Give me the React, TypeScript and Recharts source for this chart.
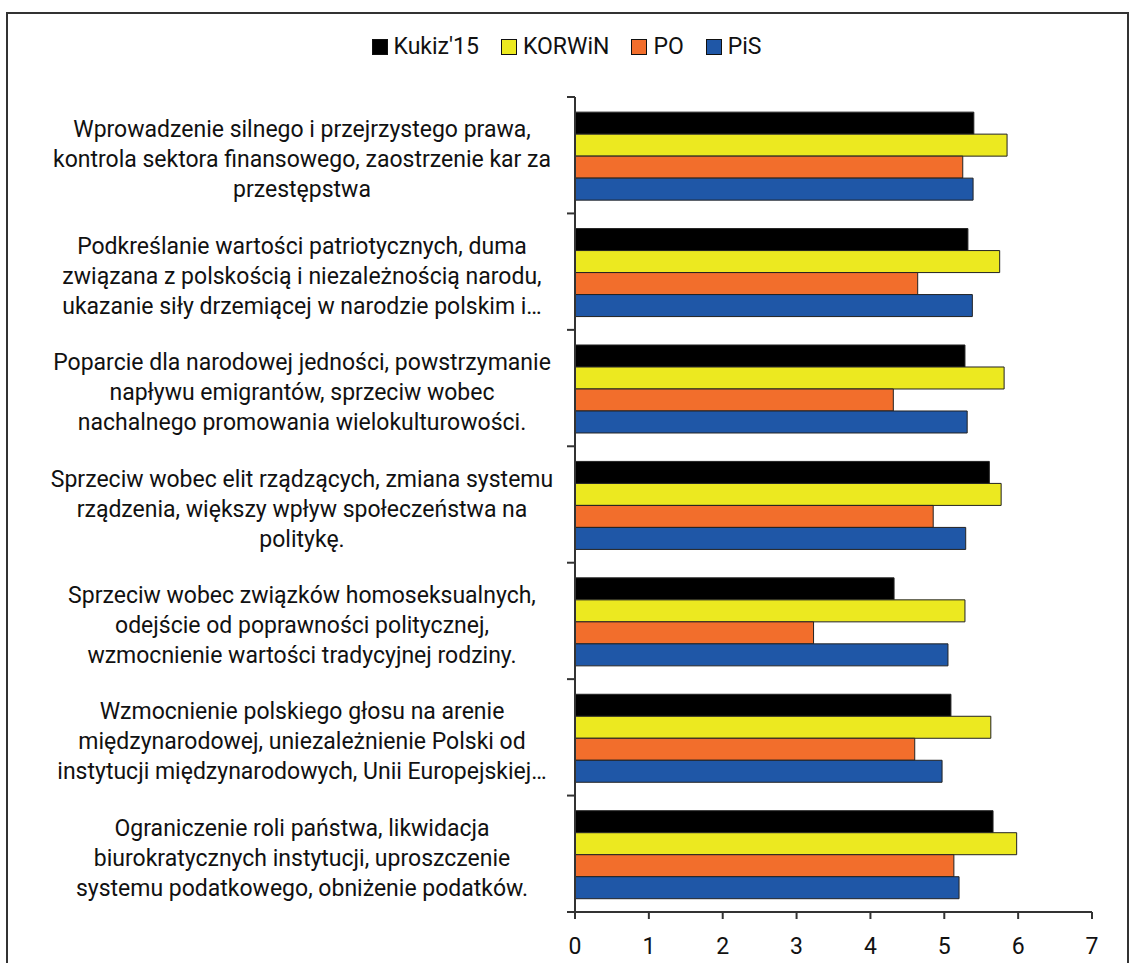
import { BarChart, Bar, XAxis, YAxis, Legend } from 'recharts';

const categories = [
  ['Wprowadzenie silnego i przejrzystego prawa,', 'kontrola sektora finansowego,  zaostrzenie kar za', 'przestępstwa'],
  ['Podkreślanie wartości patriotycznych, duma', 'związana z polskością i niezależnością narodu,', 'ukazanie siły drzemiącej w narodzie polskim i…'],
  ['Poparcie dla narodowej jedności, powstrzymanie', 'napływu emigrantów, sprzeciw wobec', 'nachalnego promowania wielokulturowości.'],
  ['Sprzeciw wobec elit rządzących, zmiana systemu', 'rządzenia, większy wpływ społeczeństwa na', 'politykę.'],
  ['Sprzeciw wobec związków homoseksualnych,', 'odejście od poprawności politycznej,', 'wzmocnienie wartości tradycyjnej rodziny.'],
  ['Wzmocnienie polskiego głosu na arenie', 'międzynarodowej, uniezależnienie Polski od', 'instytucji międzynarodowych, Unii Europejskiej…'],
  ['Ograniczenie roli państwa, likwidacja', 'biurokratycznych instytucji, uproszczenie', 'systemu podatkowego, obniżenie podatków.'],
];

const kukiz = [5.40, 5.32, 5.28, 5.61, 4.32, 5.09, 5.66];
const korwin = [5.85, 5.75, 5.81, 5.77, 5.28, 5.63, 5.98];
const po = [5.25, 4.64, 4.31, 4.85, 3.23, 4.60, 5.13];
const pis = [5.39, 5.38, 5.31, 5.29, 5.05, 4.97, 5.20];

const xTicks = [0, 1, 2, 3, 4, 5, 6, 7];

const series = [
  { key: 'kukiz', name: "Kukiz'15", color: '#000000' },
  { key: 'korwin', name: 'KORWiN', color: '#ECE920' },
  { key: 'po', name: 'PO', color: '#F26E2C' },
  { key: 'pis', name: 'PiS', color: '#1F57A7' },
];

const data = categories.map((_, i) => ({
  name: String(i),
  kukiz: kukiz[i],
  korwin: korwin[i],
  po: po[i],
  pis: pis[i],
}));

const FONT = 'Roboto, sans-serif';
const W = 1129;
const H = 963;
const TOP = 97;
const BOTTOM_AXIS = 912;
const BAND = (BOTTOM_AXIS - TOP) / categories.length;

const CategoryTick = (props: any) => {
  const { x, y, payload, index } = props;
  const lines = categories[Number(payload.value)] || [];
  const axisX = x + 8;
  return (
    <g>
      <line x1={axisX - 8} x2={axisX} y1={y - BAND / 2} y2={y - BAND / 2} stroke="#333" strokeWidth={2} />
      {index === categories.length - 1 && (
        <line x1={axisX - 8} x2={axisX} y1={y + BAND / 2} y2={y + BAND / 2} stroke="#333" strokeWidth={2} />
      )}
      <text x={302} y={y + 6} textAnchor="middle" fontFamily={FONT} fontSize={23} fill="#111">
        {lines.map((l, k) => (
          <tspan key={k} x={302} dy={k === 0 ? -30 : 30} dominantBaseline="middle">
            {l}
          </tspan>
        ))}
      </text>
    </g>
  );
};

const XTick = (props: any) => {
  const { x, y, payload } = props;
  return (
    <text x={x} y={y + 33} textAnchor="middle" fontFamily={FONT} fontSize={23} fill="#111">
      {payload.value}
    </text>
  );
};

const LegendContent = () => (
  <div style={{ display: 'flex', justifyContent: 'center', gap: 22, fontFamily: FONT, fontSize: 23, color: '#111', paddingLeft: 4 }}>
    {series.map((s) => (
      <div key={s.key} style={{ display: 'flex', alignItems: 'center', gap: 6 }}>
        <span style={{ width: 14, height: 14, background: s.color, border: '1px solid #111', display: 'inline-block' }} />
        <span>{s.name}</span>
      </div>
    ))}
  </div>
);

export default function App() {
  return (
    <div style={{ position: 'absolute', left: 0, top: 0, width: W, height: H, overflow: 'hidden', background: '#fff' }}>
      <div style={{ position: 'absolute', left: 6, top: 12, width: 1119, height: 1000, border: '2px solid #333' }} />
      <div style={{ position: 'absolute', left: 0, top: 0 }}>
        <BarChart
          width={W}
          height={H}
          data={data}
          layout="vertical"
          margin={{ top: TOP, right: 37, bottom: 6, left: 15 }}
          barCategoryGap="13%"
          barGap={0}
        >
          <XAxis
            type="number"
            domain={[0, 7]}
            ticks={xTicks}
            interval={0}
            height={45}
            axisLine={{ stroke: '#333', strokeWidth: 2 }}
            tickLine={{ stroke: '#333', strokeWidth: 2 }}
            tickSize={7}
            tickMargin={2}
            tick={<XTick />}
          />
          <YAxis
            type="category"
            dataKey="name"
            width={560}
            interval={0}
            axisLine={{ stroke: '#333', strokeWidth: 2 }}
            tickLine={false}
            tickSize={0}
            tickMargin={8}
            tick={<CategoryTick />}
          />
          <Legend
            verticalAlign="middle"
            align="center"
            content={<LegendContent />}
            wrapperStyle={{ top: 33, left: 0, width: W }}
          />
          {series.map((s) => (
            <Bar
              key={s.key}
              dataKey={s.key}
              name={s.name}
              fill={s.color}
              stroke="#222"
              strokeWidth={1}
              isAnimationActive={false}
            />
          ))}
        </BarChart>
      </div>
    </div>
  );
}
